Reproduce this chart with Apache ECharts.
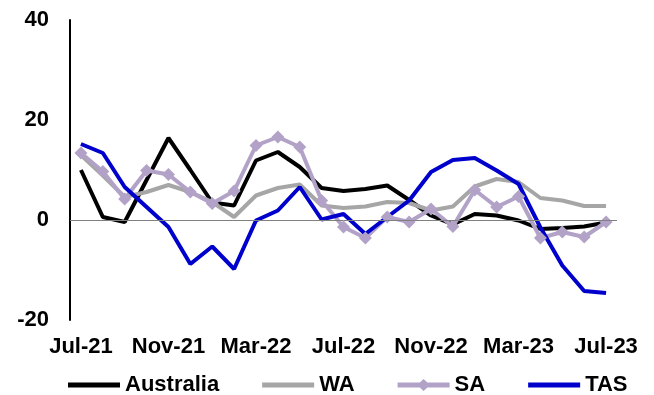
<!DOCTYPE html>
<html>
<head>
<meta charset="utf-8">
<script src="https://cdn.jsdelivr.net/npm/echarts@6/dist/echarts.min.js"></script>
<style>
  html, body { margin: 0; padding: 0; background: #fff; }
  #chart { width: 654px; height: 395px; }
</style>
</head>
<body>
<div id="chart"></div>
<script>
// Monthly categories, Jul-21 .. Jul-23
const months = ['Jul-21','Aug-21','Sep-21','Oct-21','Nov-21','Dec-21','Jan-22','Feb-22','Mar-22','Apr-22','May-22','Jun-22',
  'Jul-22','Aug-22','Sep-22','Oct-22','Nov-22','Dec-22','Jan-23','Feb-23','Mar-23','Apr-23','May-23','Jun-23','Jul-23'];

const australia = [10, 0.6, -0.4, 8, 16.4, 10, 3.5, 2.9, 11.9, 13.6, 10.6, 6.4,
  5.8, 6.2, 6.9, 4.0, 0.9, -0.9, 1.2, 0.9, -0.1, -1.8, -1.6, -1.3, -0.5];
const wa = [13, 8.9, 4.6, 5.6, 7.0, 5.6, 3.6, 0.6, 4.9, 6.4, 7.1, 2.9,
  2.4, 2.7, 3.6, 3.4, 1.9, 2.7, 6.7, 8.2, 7.6, 4.4, 3.9, 2.8, 2.8];
const sa = [13.4, 9.7, 4.2, 9.9, 9.1, 5.6, 3.3, 5.8, 14.9, 16.6, 14.6, 3.9,
  -1.4, -3.6, 0.6, -0.4, 2.2, -1.3, 6.0, 2.6, 4.7, -3.6, -2.4, -3.4, -0.4];
const tas = [15.2, 13.4, 6.6, 2.6, -1.4, -8.8, -5.3, -9.8, -0.1, 1.9, 6.6, 0.1,
  1.2, -2.8, 0.6, 3.9, 9.6, 12.0, 12.4, 9.9, 7.2, -1.5, -9.1, -14.2, -14.6];

const yTicks = { min: -20, max: 40, step: 20 };

const font = 'Liberation Sans, Arial, sans-serif';

// Legend glyphs: a plain bar, and a bar with a diamond for the marked series
const barIcon = 'path://M0,3.5L52,3.5L52,8.5L0,8.5Z M0,0L0.01,0L0.01,12L0,12Z';
const diamondIcon = 'path://M0,3.5L52,3.5L52,8.5L0,8.5Z M19.5,6L26,0L32.5,6L26,12Z';

const chart = echarts.init(document.getElementById('chart'), null, { renderer: 'canvas' });

function lineSeries(name, data, color, extra) {
  return Object.assign({
    name: name,
    type: 'line',
    data: data,
    symbol: 'none',
    showSymbol: false,
    smooth: false,
    lineStyle: { color: color, width: 4 },
    itemStyle: { color: color },
    emphasis: { disabled: true },
    animation: false
  }, extra || {});
}

chart.setOption({
  backgroundColor: '#ffffff',
  animation: false,
  grid: { left: 70, right: 37, top: 20, bottom: 75 },
  legend: {
    left: 63,
    top: 369,
    itemWidth: 52,
    itemHeight: 12,
    itemGap: 43,
    textStyle: { fontFamily: font, fontWeight: 'bold', fontSize: 22, color: '#000' },
    data: [
      { name: 'Australia', icon: barIcon },
      { name: 'WA', icon: barIcon },
      { name: 'SA', icon: diamondIcon },
      { name: 'TAS', icon: barIcon }
    ]
  },
  xAxis: {
    type: 'category',
    data: months,
    boundaryGap: true,
    axisLine: { show: false, onZero: false },
    axisTick: { show: false },
    splitLine: { show: false },
    axisLabel: {
      interval: 3,
      margin: 16,
      fontFamily: font,
      fontWeight: 'bold',
      fontSize: 22,
      color: '#000'
    }
  },
  yAxis: {
    type: 'value',
    min: yTicks.min,
    max: yTicks.max,
    interval: yTicks.step,
    axisLine: { show: true, lineStyle: { color: '#000', width: 2 } },
    axisTick: { show: false },
    splitLine: { show: false },
    axisLabel: {
      margin: 21,
      fontFamily: font,
      fontWeight: 'bold',
      fontSize: 22,
      color: '#000'
    }
  },
  series: [
    lineSeries('Australia', australia, '#000000', {
      markLine: {
        silent: true,
        symbol: 'none',
        label: { show: false },
        lineStyle: { color: '#808080', width: 1, type: 'solid' },
        data: [{ yAxis: 0 }],
        animation: false
      }
    }),
    lineSeries('WA', wa, '#A6A6A6'),
    lineSeries('SA', sa, '#B3A2C7', {
      symbol: 'diamond',
      showSymbol: true,
      symbolSize: 13
    }),
    lineSeries('TAS', tas, '#0000CC')
  ]
});
</script>
</body>
</html>
